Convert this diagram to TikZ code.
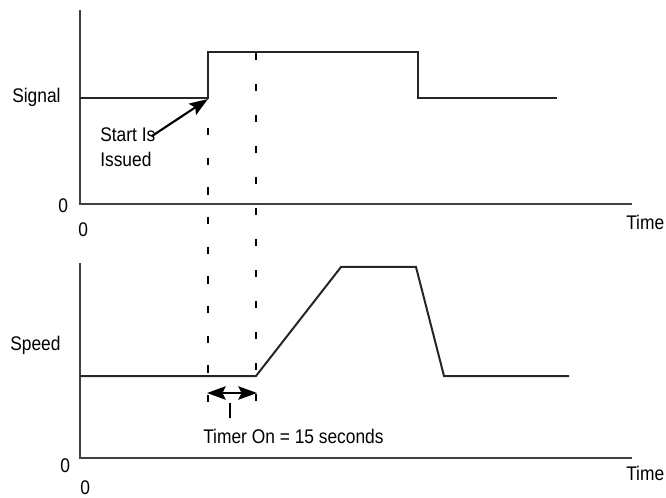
\documentclass[tikz,border=0pt]{standalone}
\usepackage{fontspec}
\setmainfont[FakeStretch=0.88]{Liberation Sans}
\usetikzlibrary{arrows.meta}
\tikzset{bighead/.tip={Stealth[length=14pt,width=10pt,inset=2.5pt]}}
\begin{document}
\begin{tikzpicture}[x=0.75pt,y=-0.75pt,
  axis/.style={draw=black!75, line width=0.8pt},
  sig/.style={draw=black!85, line width=1.5pt, line join=miter},
  guideA/.style={draw=black, line width=2.1pt, dash pattern=on 5.5pt off 16.75pt},
  guideB/.style={draw=black, line width=2.1pt, dash pattern=on 5.5pt off 17.75pt},
  lbl/.style={anchor=base west, inner sep=0pt, font=\fontsize{14.8pt}{18.75pt}\selectfont},
  ]
\path[use as bounding box] (0,0) rectangle (666,498);

% coordinates
\coordinate (o1) at (80,204); \coordinate (ytop1) at (80,10); \coordinate (xend1) at (632,204);
\coordinate (s0) at (80,98); \coordinate (s1) at (208,98); \coordinate (s2) at (208,52);
\coordinate (s3) at (418,52); \coordinate (s4) at (418,98); \coordinate (s5) at (557,98);
\coordinate (o2) at (80,458); \coordinate (ytop2) at (80,263); \coordinate (xend2) at (632,458);
\coordinate (v0) at (80,376); \coordinate (v1) at (256,376); \coordinate (v2) at (341,267);
\coordinate (v3) at (416,267); \coordinate (v4) at (444,376); \coordinate (v5) at (569,376);
\coordinate (d1a) at (208,128); \coordinate (d1b) at (208,402);
\coordinate (d2a) at (256,53); \coordinate (d2b) at (256,402);
\coordinate (a1) at (207,393); \coordinate (a2) at (257,393);
\coordinate (t1) at (230,403); \coordinate (t2) at (230,418);
\coordinate (sa) at (152,136); \coordinate (sb) at (208,99);

% axes
\draw[axis] (ytop1) -- (o1) -- (xend1);
\draw[axis] (ytop2) -- (o2) -- (xend2);

% dashed guides
\draw[guideA] (d1a) -- (d1b);
\draw[guideB] (d2a) -- (d2b);

% signal and speed traces
\draw[sig] (s0) -- (s1) -- (s2) -- (s3) -- (s4) -- (s5);
\draw[sig] (v0) -- (v1) -- (v2) -- (v3) -- (v4) -- (v5);

% start arrow
\draw[line width=1.6pt, -{bighead}] (sa) -- (sb);

% timer arrow
\draw[line width=1.8pt, {bighead}-{bighead}] (a1) -- (a2);
\draw[line width=0.8pt] (t1) -- (t2);

% labels
\node[lbl] (lsig) at (12,103) {Signal};
\node[lbl] (lspd) at (10,350) {Speed};
\node[lbl] (z1) at (58,213) {0};
\node[lbl] (z2) at (78,237) {0};
\node[lbl] (z3) at (60,472) {0};
\node[lbl] (z4) at (80,494) {0};
\node[lbl] (tm1) at (626,230) {Time};
\node[lbl] (tm2) at (626,480) {Time};
\node[lbl] (st1) at (100,142) {Start Is};
\node[lbl] (st2) at (100,167) {Issued};
\node[lbl] (tmr) at (203,443) {Timer On = 15 seconds};
\end{tikzpicture}
\end{document}
